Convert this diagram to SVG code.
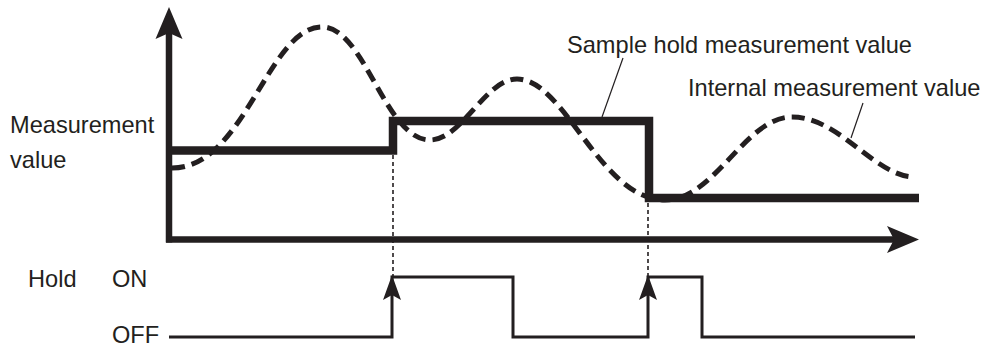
<svg xmlns="http://www.w3.org/2000/svg" width="990" height="347" viewBox="0 0 990 347">
<style>
.t{font-family:"Liberation Sans",Arial,sans-serif;font-size:23.6px;fill:#231f20}
.ax{stroke:#231f20;stroke-width:6.5;fill:none}
.hold{stroke:#231f20;stroke-width:8.5;fill:none;stroke-linejoin:miter}
.int{stroke:#231f20;stroke-width:5;fill:none;stroke-dasharray:13 7}
.dot{stroke:#231f20;stroke-width:1.6;fill:none;stroke-dasharray:4 3}
.sig{stroke:#231f20;stroke-width:3;fill:none}
.lead{stroke:#231f20;stroke-width:1.2;fill:none}
.ah{fill:#231f20}
</style>
<rect width="990" height="347" fill="#ffffff"/>
<g id="axes">
<line class="ax" x1="169" y1="30" x2="169" y2="242.5"/>
<line class="ax" x1="166" y1="239.5" x2="896" y2="239.5"/>
<polygon class="ah" points="169,7 182.5,39 169,33 155.5,39"/>
<polygon class="ah" points="919,239.5 887,226 894,239.5 887,253"/>
</g>
<g id="internal-value">
<path class="int" d="M172,168 C245,168 268,27 322,27 C365,27 385,140 430,140 C462,140 485,79 517,79 C565,79 600,200 665,200 C715,200 745,117 792,117 C840,117 875,177 915,177"/>
</g>
<g id="sample-hold-value">
<path class="hold" d="M172,150.5 H393 V121 H649 V198 H919"/>
</g>
<g id="connectors">
<line class="dot" x1="393" y1="155" x2="393" y2="276"/>
<line class="dot" x1="648" y1="203" x2="648" y2="276"/>
<line class="lead" x1="623" y1="58" x2="602" y2="117"/>
<line class="lead" x1="863" y1="103" x2="851" y2="138"/>
</g>
<g id="hold-signal">
<path class="sig" d="M169,337 H392 V277 H513 V337 H648 V277 H702 V337 H915"/>
<polygon class="ah" points="392,275 401,300 392,295 383,300"/>
<polygon class="ah" points="648,275 657,300 648,295 639,300"/>
</g>
<g id="labels">
<text class="t" x="10" y="133">Measurement</text>
<text class="t" x="10" y="168">value</text>
<text class="t" x="567" y="53">Sample hold measurement value</text>
<text class="t" x="688" y="96">Internal measurement value</text>
<text class="t" x="28" y="287">Hold</text>
<text class="t" x="112" y="287">ON</text>
<text class="t" x="112" y="343">OFF</text>
</g>
</svg>
